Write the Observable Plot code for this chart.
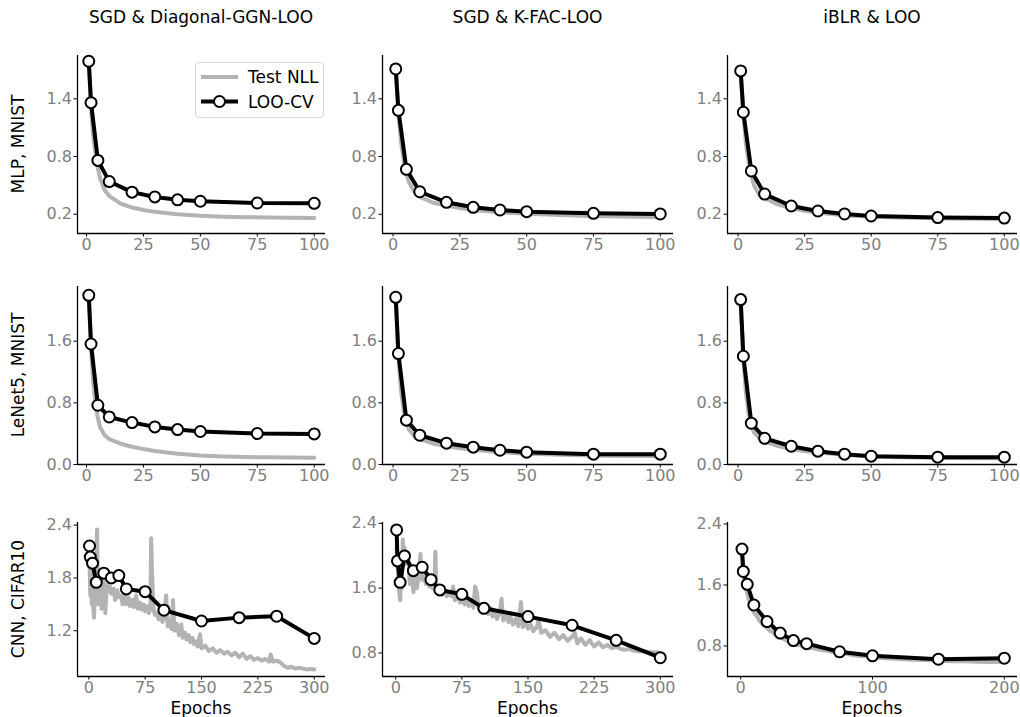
<!DOCTYPE html>
<html><head><meta charset="utf-8">
<script src="https://cdn.jsdelivr.net/npm/d3@7"></script>
<script src="https://cdn.jsdelivr.net/npm/@observablehq/plot@0.6"></script>
<style>
body{margin:0;background:#fff;font-family:"DejaVu Sans",sans-serif;}
#root{position:relative;width:1020px;height:717px;overflow:hidden;background:#fff;}
.ttl{position:absolute;font-size:17px;line-height:1;color:#000;white-space:nowrap;transform:translate(-50%,-50%);}
.rlab{position:absolute;font-size:17px;line-height:1;color:#000;white-space:nowrap;transform:translate(-50%,-50%) rotate(-90deg);}
.legend{position:absolute;border:1px solid #d6d6d6;border-radius:4px;background:#fff;}
</style></head><body><div id="root"></div>
<script>
// ---------- text ----------
const colTitles = ["SGD & Diagonal-GGN-LOO", "SGD & K-FAC-LOO", "iBLR & LOO"];
const rowLabels = ["MLP, MNIST", "LeNet5, MNIST", "CNN, CIFAR10"];
const xLabel = "Epochs";
const legendLabels = ["Test NLL", "LOO-CV"];

// ---------- ticks ----------
const xTicks100 = [0, 25, 50, 75, 100];
const xTicks300 = [0, 75, 150, 225, 300];
const xTicks200 = [0, 100, 200];
const yTicksMlp = [0.2, 0.8, 1.4];
const yTicksLenet = [0.0, 0.8, 1.6];
const yTicksCnnDiag = [1.2, 1.8, 2.4];
const yTicksCnnOther = [0.8, 1.6, 2.4];

// ---------- LOO-CV epochs ----------
const looEpochs100 = [1, 2, 5, 10, 20, 30, 40, 50, 75, 100];
const looEpochs300 = [1, 2, 5, 10, 20, 30, 40, 50, 75, 100, 150, 200, 250, 300];
const looEpochs200 = [1, 2, 5, 10, 20, 30, 40, 50, 75, 100, 150, 200];

// ---------- LOO-CV values ----------
const mlpDiagLoo = [1.79, 1.36, 0.76, 0.54, 0.43, 0.38, 0.35, 0.335, 0.317, 0.314];
const mlpKfacLoo = [1.71, 1.28, 0.667, 0.434, 0.324, 0.272, 0.244, 0.227, 0.21, 0.203];
const mlpIblrLoo = [1.69, 1.26, 0.65, 0.41, 0.286, 0.234, 0.203, 0.182, 0.165, 0.16];
const lenetDiagLoo = [2.196, 1.564, 0.769, 0.617, 0.544, 0.488, 0.453, 0.428, 0.402, 0.397];
const lenetKfacLoo = [2.17, 1.44, 0.575, 0.38, 0.277, 0.225, 0.185, 0.16, 0.134, 0.134];
const lenetIblrLoo = [2.14, 1.405, 0.536, 0.34, 0.237, 0.173, 0.134, 0.108, 0.095, 0.095];
const cnnDiagLoo = [2.163, 2.037, 1.968, 1.75, 1.854, 1.80, 1.827, 1.675, 1.644, 1.434, 1.311, 1.349, 1.365, 1.113];
const cnnKfacLoo = [2.318, 1.936, 1.672, 1.998, 1.816, 1.858, 1.705, 1.578, 1.524, 1.351, 1.249, 1.142, 0.956, 0.742];
const cnnIblrLoo = [2.071, 1.778, 1.609, 1.338, 1.12, 0.969, 0.871, 0.831, 0.724, 0.671, 0.627, 0.64];

// ---------- Test NLL (MNIST) ----------
const testEpochs100 = [1, 2, 3, 4, 5, 6, 8, 10, 15, 20, 25, 30, 40, 50, 60, 70, 80, 90, 100];
const mlpDiagTest = [1.77, 1.3, 1.0, 0.82, 0.68, 0.57, 0.45, 0.39, 0.31, 0.27, 0.245, 0.225, 0.2, 0.185, 0.175, 0.17, 0.165, 0.163, 0.16];
const mlpKfacTest = [1.7, 1.25, 0.95, 0.76, 0.62, 0.53, 0.43, 0.38, 0.32, 0.29, 0.265, 0.245, 0.22, 0.205, 0.195, 0.185, 0.18, 0.175, 0.172];
const mlpIblrTest = [1.68, 1.24, 0.93, 0.74, 0.61, 0.5, 0.4, 0.37, 0.3, 0.265, 0.235, 0.215, 0.19, 0.175, 0.165, 0.16, 0.155, 0.152, 0.15];
const lenetDiagTest = [2.19, 1.5, 1.05, 0.78, 0.6, 0.48, 0.38, 0.33, 0.27, 0.23, 0.2, 0.175, 0.14, 0.117, 0.105, 0.097, 0.093, 0.09, 0.088];
const lenetKfacTest = [2.15, 1.4, 0.95, 0.7, 0.54, 0.45, 0.37, 0.33, 0.27, 0.24, 0.21, 0.19, 0.16, 0.14, 0.13, 0.12, 0.115, 0.11, 0.11];
const lenetIblrTest = [2.12, 1.38, 0.92, 0.66, 0.5, 0.42, 0.34, 0.3, 0.24, 0.2, 0.175, 0.155, 0.125, 0.105, 0.095, 0.09, 0.085, 0.082, 0.08];

// ---------- Test NLL (CIFAR10) ----------
const cnnDiagTestEpochs = [1,2,3,4,5,6,7,8,9,10,11,12,13,15,17,18,20,22,24,26,28,30,33,35,38,40,43,45,48,50,53,55,58,60,63,65,68,70,73,75,78,80,82,83,84,86,88,90,93,95,98,100,103,105,108,110,112,114,117,120,123,125,128,130,133,135,138,140,143,145,148,150,155,160,165,170,175,180,185,190,195,200,205,210,215,220,225,230,235,240,242,245,250,255,260,265,270,275,280,285,290,295,300];
const cnnDiagTest = [2.0,1.6,1.9,1.5,1.75,1.45,1.35,1.6,1.5,2.0,2.35,1.7,1.5,1.65,1.45,1.75,1.8,1.4,1.72,1.65,1.7,1.62,1.68,1.55,1.66,1.58,1.6,1.5,1.62,1.5,1.58,1.48,1.55,1.47,1.6,1.45,1.52,1.44,1.5,1.42,1.48,1.4,1.45,2.25,1.9,1.45,1.38,1.4,1.33,1.45,1.3,1.35,1.6,1.25,1.32,1.22,1.55,1.2,1.28,1.15,1.27,1.12,1.18,1.1,1.15,1.07,1.12,1.05,1.08,1.02,1.16,1.0,1.03,0.97,1.0,0.95,0.98,0.94,0.96,0.92,0.95,0.9,0.94,0.88,0.91,0.87,0.89,0.86,0.88,0.85,0.93,0.85,0.86,0.84,0.8,0.78,0.79,0.77,0.78,0.77,0.76,0.765,0.76];
const cnnKfacTestEpochs = [1,2,3,4,5,6,7,8,9,10,12,14,16,18,20,22,24,26,28,30,32,34,36,38,40,42,44,45,46,48,50,53,55,58,60,63,65,67,70,73,75,78,80,83,85,88,90,92,94,97,100,103,105,108,110,113,115,118,120,122,125,128,130,133,136,139,142,144,147,150,153,156,160,162,165,170,175,180,185,190,195,200,203,206,210,215,220,225,230,235,240,245,250,255,260,265,270,275,280,285,290,295,300];
const cnnKfacTest = [2.1,1.9,1.7,1.55,1.45,1.7,1.6,2.2,2.05,2.1,1.9,2.0,1.65,1.85,1.55,1.8,1.6,1.75,2.02,1.7,1.85,1.65,1.78,1.62,1.75,1.6,1.7,2.05,1.6,1.55,1.6,1.52,1.57,1.5,1.55,1.5,1.62,1.45,1.5,1.42,1.48,1.4,1.45,1.38,1.43,1.36,1.62,1.55,1.35,1.4,1.33,1.38,1.28,1.35,1.25,1.32,1.22,1.3,1.47,1.2,1.28,1.18,1.25,1.15,1.22,1.13,1.43,1.12,1.18,1.1,1.15,1.07,1.12,1.2,1.05,1.08,1.0,1.05,0.97,1.02,0.95,1.0,1.05,0.92,0.98,0.9,0.96,0.88,0.93,0.87,0.9,0.86,0.88,0.85,0.84,0.85,0.83,0.82,0.82,0.815,0.81,0.81,0.8];
const cnnIblrTestEpochs = [1,2,3,4,5,6,7,8,9,10,12,14,16,18,20,22,24,26,28,30,33,36,39,42,45,48,51,55,60,65,70,75,80,85,90,95,100,110,120,130,140,150,160,170,180,190,200];
const cnnIblrTest = [2.0,1.75,1.62,1.55,1.5,1.42,1.38,1.3,1.28,1.24,1.2,1.14,1.1,1.07,1.04,1.0,0.99,0.95,0.94,0.91,0.89,0.86,0.85,0.82,0.81,0.8,0.78,0.77,0.75,0.74,0.72,0.7,0.7,0.68,0.67,0.665,0.65,0.64,0.63,0.62,0.615,0.61,0.6,0.6,0.595,0.59,0.59];

// ---------- domains (axis limits) ----------
const xDom100 = [-3.95, 104.95];
const xDom300 = [-15, 315];
const xDom200 = [-10, 210];
const yDomMlp = [0.0, 1.85];
const yDomLenet = [0.0, 2.31];
const yDomCnnDiag = [0.68, 2.43];
const yDomCnnKfac = [0.51, 2.41];
const yDomCnnIblr = [0.40, 2.42];

const panels = [
  {r:0,c:0, le:looEpochs100, lv:mlpDiagLoo, te:testEpochs100, tv:mlpDiagTest, xd:xDom100, xt:xTicks100, yd:yDomMlp, yt:yTicksMlp},
  {r:0,c:1, le:looEpochs100, lv:mlpKfacLoo, te:testEpochs100, tv:mlpKfacTest, xd:xDom100, xt:xTicks100, yd:yDomMlp, yt:yTicksMlp},
  {r:0,c:2, le:looEpochs100, lv:mlpIblrLoo, te:testEpochs100, tv:mlpIblrTest, xd:xDom100, xt:xTicks100, yd:yDomMlp, yt:yTicksMlp},
  {r:1,c:0, le:looEpochs100, lv:lenetDiagLoo, te:testEpochs100, tv:lenetDiagTest, xd:xDom100, xt:xTicks100, yd:yDomLenet, yt:yTicksLenet},
  {r:1,c:1, le:looEpochs100, lv:lenetKfacLoo, te:testEpochs100, tv:lenetKfacTest, xd:xDom100, xt:xTicks100, yd:yDomLenet, yt:yTicksLenet},
  {r:1,c:2, le:looEpochs100, lv:lenetIblrLoo, te:testEpochs100, tv:lenetIblrTest, xd:xDom100, xt:xTicks100, yd:yDomLenet, yt:yTicksLenet},
  {r:2,c:0, le:looEpochs300, lv:cnnDiagLoo, te:cnnDiagTestEpochs, tv:cnnDiagTest, xd:xDom300, xt:xTicks300, yd:yDomCnnDiag, yt:yTicksCnnDiag},
  {r:2,c:1, le:looEpochs300, lv:cnnKfacLoo, te:cnnKfacTestEpochs, tv:cnnKfacTest, xd:xDom300, xt:xTicks300, yd:yDomCnnKfac, yt:yTicksCnnOther},
  {r:2,c:2, le:looEpochs200, lv:cnnIblrLoo, te:cnnIblrTestEpochs, tv:cnnIblrTest, xd:xDom200, xt:xTicks200, yd:yDomCnnIblr, yt:yTicksCnnOther}
];

// layout of plot areas (pixels)
const colX = [[77, 325], [382, 673], [727, 1017]];
const rowY = [[55, 233], [286, 464], [522, 676]];
const GRAY = "#b3b3b3";
const root = document.getElementById("root");
const ml = 50, mr = 14, mt = 14, mb = 30;

for (const p of panels) {
  const [x0, x1] = colX[p.c], [y0, y1] = rowY[p.r];
  const loo = p.le.map((e, i) => ({x: e, y: p.lv[i]}));
  const test = p.te.map((e, i) => ({x: e, y: p.tv[i]}));
  const svg = Plot.plot({
    width: (x1 - x0) + ml + mr,
    height: (y1 - y0) + mt + mb,
    marginLeft: ml, marginRight: mr, marginTop: mt, marginBottom: mb,
    style: {background: "transparent", fontFamily: "DejaVu Sans, sans-serif", overflow: "visible"},
    x: {domain: p.xd},
    y: {domain: p.yd},
    marks: [
      Plot.axisX({ticks: p.xt, tickFormat: d3.format("d"), tickSize: 3.5, tickPadding: 2, fontSize: 16, fill: "#808080", stroke: "#000", label: null}),
      Plot.axisY({ticks: p.yt, tickFormat: d3.format(".1f"), tickSize: 3.5, tickPadding: 2, fontSize: 16, fill: "#808080", stroke: "#000", label: null}),
      Plot.line(test, {x: "x", y: "y", stroke: GRAY, strokeWidth: 4, strokeLinejoin: "round"}),
      Plot.line(loo, {x: "x", y: "y", stroke: "#000", strokeWidth: 4, strokeLinejoin: "round"}),
      Plot.dot(loo, {x: "x", y: "y", r: 5.5, fill: "#fff", stroke: "#000", strokeWidth: 2}),
      Plot.ruleX([p.xd[0]], {stroke: "#000", strokeWidth: 1.3}),
      Plot.ruleY([p.yd[0]], {stroke: "#000", strokeWidth: 1.3})
    ]
  });
  svg.style.position = "absolute";
  svg.style.left = (x0 - ml) + "px";
  svg.style.top = (y0 - mt) + "px";
  root.appendChild(svg);
}

// column titles
colTitles.forEach((t, c) => {
  const d = document.createElement("div");
  d.className = "ttl"; d.textContent = t;
  d.style.left = ((colX[c][0] + colX[c][1]) / 2) + "px";
  d.style.top = "17px";
  root.appendChild(d);
});
// row labels
rowLabels.forEach((t, r) => {
  const d = document.createElement("div");
  d.className = "rlab"; d.textContent = t;
  d.style.left = "18px";
  d.style.top = ((rowY[r][0] + rowY[r][1]) / 2) + "px";
  root.appendChild(d);
});
// x labels
colX.forEach(([a, b]) => {
  const d = document.createElement("div");
  d.className = "ttl"; d.textContent = xLabel;
  d.style.left = ((a + b) / 2) + "px";
  d.style.top = "707.5px";
  root.appendChild(d);
});
// legend
const lg = document.createElement("div");
lg.className = "legend";
lg.style.left = "195px"; lg.style.top = "62px"; lg.style.width = "127px"; lg.style.height = "54px";
lg.innerHTML = `<svg width="127" height="54" style="position:absolute;left:0;top:0">
  <line x1="5" x2="42" y1="14" y2="14" stroke="${GRAY}" stroke-width="4"/>
  <line x1="5" x2="42" y1="38.5" y2="38.5" stroke="#000" stroke-width="4"/>
  <circle cx="23.5" cy="38.5" r="5.5" fill="#fff" stroke="#000" stroke-width="2"/>
  <text x="52" y="14" dy="0.36em" font-size="17" font-family="DejaVu Sans">${legendLabels[0]}</text>
  <text x="52" y="38.5" dy="0.36em" font-size="17" font-family="DejaVu Sans">${legendLabels[1]}</text>
</svg>`;
root.appendChild(lg);
</script>
</body></html>
